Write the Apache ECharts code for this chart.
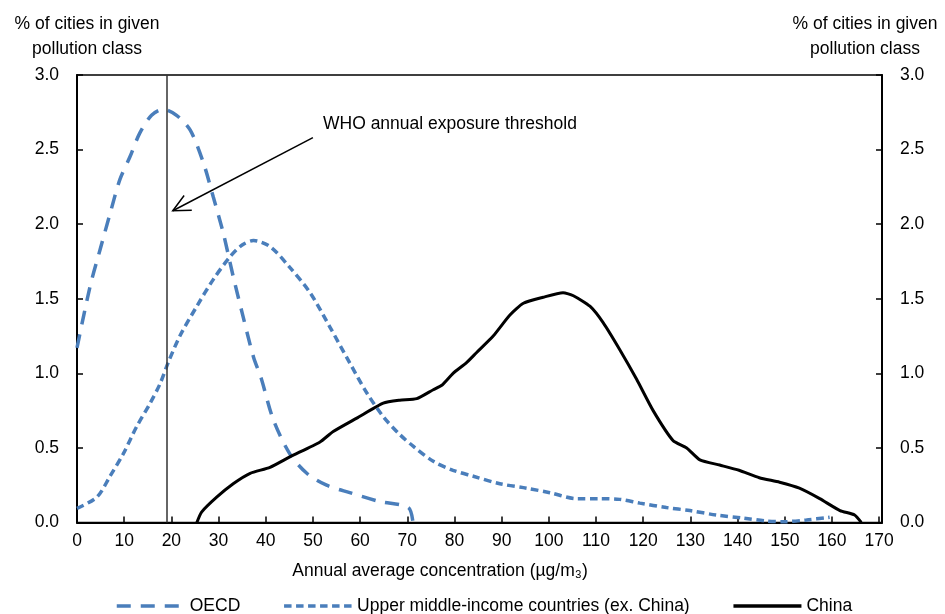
<!DOCTYPE html>
<html>
<head>
<meta charset="utf-8">
<script src="https://cdn.jsdelivr.net/npm/echarts@6/dist/echarts.min.js"></script>
<style>
html,body{margin:0;padding:0;background:#fff;}
#chart{width:945px;height:614px;}
</style>
</head>
<body>
<div id="chart"></div>
<script>
// Data (x = annual average concentration µg/m3, y = % of cities)
var oecdData = [[0,1.17],[2.75,1.58],[4.9,1.83],[7.0,2.07],[9.1,2.30],[11.2,2.45],[13.3,2.61],[15.8,2.73],[18.3,2.77],[21.1,2.73],[24.0,2.63],[26.8,2.41],[28.9,2.18],[31.0,1.94],[33.1,1.65],[35.2,1.38],[37.4,1.11],[39.0,0.97],[41.6,0.69],[45.1,0.46],[48.7,0.33],[52.9,0.25],[57.8,0.20],[64.2,0.14],[70.2,0.10],[71.2,0]];
var umicData = [[0,0.095],[4.2,0.17],[7.0,0.31],[9.8,0.46],[12.6,0.64],[15.5,0.80],[17.6,0.93],[19.3,1.07],[21.8,1.25],[25.4,1.45],[28.9,1.63],[32.4,1.78],[35.0,1.86],[37.4,1.89],[40.9,1.85],[45.1,1.71],[49.4,1.54],[53.6,1.31],[57.8,1.07],[61.4,0.87],[64.9,0.71],[68.4,0.59],[71.3,0.51],[75.5,0.41],[79.7,0.35],[84.0,0.31],[89.6,0.26],[95.3,0.23],[100.2,0.20],[105.9,0.16],[110.8,0.16],[115.0,0.155],[119.3,0.13],[124.9,0.10],[129.9,0.08],[135.5,0.05],[141.2,0.03],[146.1,0.01],[149.6,0.005],[154.6,0.017],[159.5,0.035]];
var chinaData = [[25.4,0],[26.4,0.07],[29.6,0.17],[33.1,0.26],[36.7,0.33],[40.9,0.37],[45.1,0.44],[51.5,0.54],[54.3,0.61],[59.3,0.70],[64.9,0.80],[68.4,0.82],[72.0,0.83],[75.5,0.89],[77.3,0.92],[79.7,1.00],[82.5,1.07],[84.7,1.14],[88.2,1.25],[91.7,1.39],[94.6,1.47],[98.8,1.51],[103.0,1.54],[105.2,1.52],[108.7,1.45],[111.5,1.34],[115.0,1.16],[118.6,0.96],[122.1,0.75],[126.3,0.55],[129.2,0.50],[132.0,0.42],[136.2,0.385],[140.3,0.35],[144.6,0.30],[148.9,0.27],[153.1,0.23],[157.4,0.16],[161.7,0.08],[164.8,0.05],[166.2,0]];
var seriesNames = ['OECD','Upper middle-income countries (ex. China)','China'];
var whoThreshold = 19;
var arrowFrom = [50, 2.58];
var arrowTo = [20.3, 2.09];
var yTitle = '% of cities in given\npollution class';
var xTitle = 'Annual average concentration (µg/m\u2083)';
var annotationText = 'WHO annual exposure threshold';

var FONT = '"Liberation Sans", Arial, sans-serif';
var FS = 17.5;
var BLUE = '#4a7ebb';
var chart = echarts.init(document.getElementById('chart'), null, {renderer:'canvas'});

function yAxisCfg(pos){
  return {
    type:'value', position:pos, min:0, max:3, interval:0.5,
    axisLine:{show:true, lineStyle:{color:'#000', width:2}},
    axisTick:{show:true, inside:true, length:6, lineStyle:{color:'#000', width:1.5}},
    axisLabel:{color:'#000', fontSize:FS, fontFamily:FONT, margin:18,
      formatter:function(v){return v.toFixed(1);}},
    splitLine:{show:false}
  };
}

var option = {
  animation:false,
  backgroundColor:'#fff',
  grid:{left:77, right:63, top:75, bottom:91.5, show:true, borderColor:'#000', borderWidth:1.5, containLabel:false},
  xAxis:{
    type:'value', min:0, max:170.6, interval:10,
    axisLine:{show:true, onZero:false, lineStyle:{color:'#000', width:2}},
    axisTick:{show:true, inside:true, length:6, lineStyle:{color:'#000', width:1.5}},
    axisLabel:{color:'#000', fontSize:FS, fontFamily:FONT, margin:10,
      formatter:function(v){return (Math.abs(v - Math.round(v)) < 1e-6 && Math.round(v) % 10 === 0) ? String(Math.round(v)) : '';}},
    splitLine:{show:false}
  },
  yAxis:[yAxisCfg('left'), yAxisCfg('right')],
  legend:{
    left:110, top:592, itemWidth:68, itemHeight:14, itemGap:42,
    itemStyle:{opacity:0},
    lineStyle:{width:3.5},
    textStyle:{color:'#000', fontSize:FS, fontFamily:FONT},
    data:seriesNames
  },
  series:[
    {name:seriesNames[0], type:'line', data:oecdData, symbol:'none', smooth:0.3, yAxisIndex:0,
      lineStyle:{color:BLUE, width:3.5, type:[14,10]}, itemStyle:{color:BLUE}, z:3},
    {name:seriesNames[1], type:'line', data:umicData, symbol:'none', smooth:0.3, yAxisIndex:0,
      lineStyle:{color:BLUE, width:3.5, type:[7.5,4.5]}, itemStyle:{color:BLUE}, z:3},
    {name:seriesNames[2], type:'line', data:chinaData, symbol:'none', smooth:0.2, yAxisIndex:0,
      lineStyle:{color:'#000', width:3}, itemStyle:{color:'#000'}, z:4,
      markLine:{silent:true, symbol:['none','none'], label:{show:false},
        lineStyle:{color:'#333', width:1.5, type:'solid'},
        data:[{xAxis:whoThreshold}]}}
  ]
};
chart.setOption(option);

// Arrow annotation, positioned via the chart's own scales
var p1 = chart.convertToPixel({xAxisIndex:0, yAxisIndex:0}, arrowFrom);
var p2 = chart.convertToPixel({xAxisIndex:0, yAxisIndex:0}, arrowTo);
var ang = Math.atan2(p1[1]-p2[1], p1[0]-p2[0]);
var L = 19, A = 0.45;
var h1 = [p2[0] + L*Math.cos(ang+A), p2[1] + L*Math.sin(ang+A)];
var h2 = [p2[0] + L*Math.cos(ang-A), p2[1] + L*Math.sin(ang-A)];
var tStyle = function(t){ return {text:t, font:FS+'px '+FONT, fill:'#000', align:'center', verticalAlign:'top', lineHeight:25}; };
chart.setOption({graphic:[
  {type:'text', x:87, y:12, style:tStyle(yTitle)},
  {type:'text', x:865, y:12, style:tStyle(yTitle)},
  {type:'text', x:440, y:559, style:tStyle(xTitle)},
  {type:'text', x:323, y:115, style:{text:annotationText, font:FS+'px '+FONT, fill:'#000', verticalAlign:'top'}},
  {type:'line', shape:{x1:p1[0], y1:p1[1], x2:p2[0], y2:p2[1]}, style:{stroke:'#000', lineWidth:1.5}, z:10},
  {type:'polyline', shape:{points:[h1, p2, h2]}, style:{stroke:'#000', lineWidth:1.5, fill:null}, z:10}
]});
</script>
</body>
</html>
